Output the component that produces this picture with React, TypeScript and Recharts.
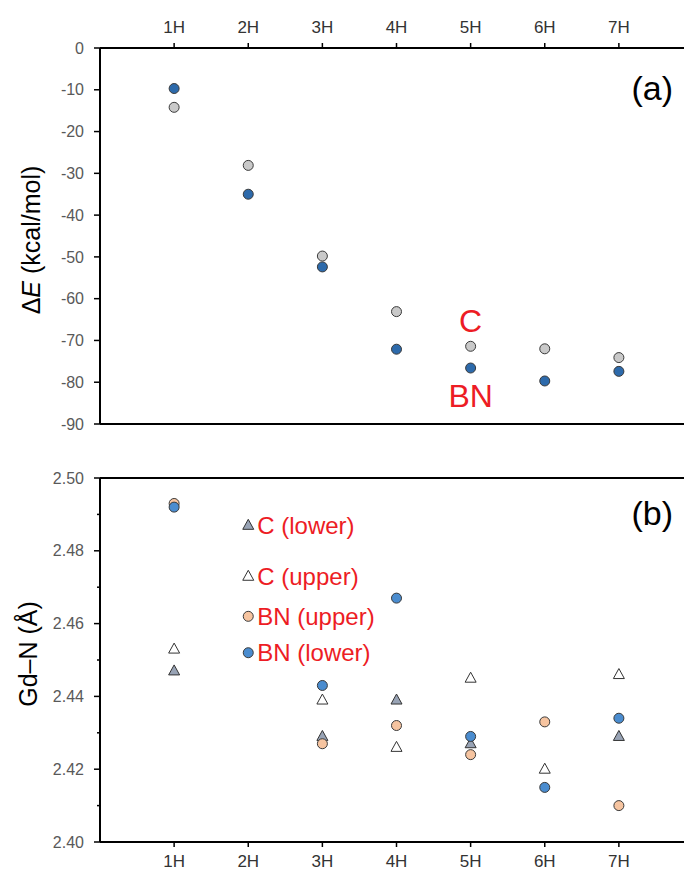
import React from 'react';
import {
  ScatterChart,
  Scatter,
  XAxis,
  YAxis,
  ReferenceLine,
  ReferenceDot,
} from 'recharts';

// hosts on the x axis (1H..7H)
const hosts = ['1H', '2H', '3H', '4H', '5H', '6H', '7H'];
const hostPos = [1, 2, 3, 4, 5, 6, 7];

// (a) binding energy, kcal/mol
const energyC = [-14.2, -28.1, -49.8, -63.1, -71.4, -72.0, -74.1];
const energyBN = [-9.7, -35.0, -52.4, -72.1, -76.6, -79.7, -77.4];
const energyTicks = [0, -10, -20, -30, -40, -50, -60, -70, -80, -90];

// (b) Gd–N distance, Å (null = no point drawn)
const gdnCLower = [2.447, null, 2.429, 2.439, 2.427, null, 2.429];
const gdnCUpper = [2.453, null, 2.439, 2.426, 2.445, 2.42, 2.446];
const gdnBNUpper = [2.493, null, 2.427, 2.432, 2.424, 2.433, 2.41];
const gdnBNLower = [2.492, null, 2.443, 2.467, 2.429, 2.415, 2.434];
const gdnTicks = [2.4, 2.41, 2.42, 2.43, 2.44, 2.45, 2.46, 2.47, 2.48, 2.49, 2.5];

// in-plot legend of (b), drawn at 2H
const legendNames = ['C (lower)', 'C (upper)', 'BN (upper)', 'BN (lower)'];
const legendY = [2.487, 2.473, 2.462, 2.452];
const legendX = 2;

const RED = '#ed1c24';
const FONT = "'Liberation Sans', Arial, sans-serif";

const toPoints = (vals: (number | null)[]) =>
  vals
    .map((v, i) => ({ x: hostPos[i], y: v }))
    .filter((p) => p.y !== null);

const hostLabel = (v: number) => hosts[v - 1] ?? '';

const circle = (fill: string) => (p: any) => (
  <circle cx={p.cx} cy={p.cy} r={5} fill={fill} stroke="#3a3a3a" strokeWidth={1} />
);

const triangle = (fill: string) => (p: any) => (
  <polygon
    points={`${p.cx},${p.cy - 6} ${p.cx - 5.5},${p.cy + 4} ${p.cx + 5.5},${p.cy + 4}`}
    fill={fill}
    stroke="#333"
    strokeWidth={1}
  />
);

const legendShapes = [
  triangle('#98a3b5'),
  triangle('#ffffff'),
  circle('#f6c4a0'),
  circle('#4a8ccf'),
];

const gdTick = (p: any) => {
  const v = p.payload.value as number;
  const major = Math.round(v * 100) % 2 === 0;
  return (
    <g>
      <line x1={p.x} x2={p.x - (major ? 6 : 3)} y1={p.y} y2={p.y} stroke="#000" strokeWidth={1.5} />
      {major && (
        <text x={p.x - 16} y={p.y} dy="0.35em" textAnchor="end" fontSize={16} fill="#595959" fontFamily={FONT}>
          {v.toFixed(2)}
        </text>
      )}
    </g>
  );
};

const energyTitle = () => (
  <text
    x={31}
    y={240}
    transform="rotate(-90, 31, 240)"
    textAnchor="middle"
    dominantBaseline="central"
    fontSize={25}
    fill="#000"
    fontFamily={FONT}
  >
    <tspan>Δ</tspan>
    <tspan fontStyle="italic">E</tspan>
    <tspan> (kcal/mol)</tspan>
  </text>
);

const gdnTitle = () => (
  <text
    x={28}
    y={214}
    transform="rotate(-90, 28, 214)"
    textAnchor="middle"
    dominantBaseline="central"
    fontSize={25}
    fill="#000"
    fontFamily={FONT}
  >
    Gd–N (Å)
  </text>
);

const axisLine = { stroke: '#000', strokeWidth: 2 };

export default function App() {
  return (
    <div
      style={{
        position: 'absolute',
        left: 0,
        top: 0,
        width: 684,
        height: 872,
        overflow: 'hidden',
        background: '#fff',
        fontFamily: FONT,
      }}
    >
      {/* (a) energies */}
      <div style={{ position: 'absolute', left: 0, top: 0 }}>
        <ScatterChart width={700} height={440} margin={{ top: 0, right: 7, bottom: 16, left: 0 }}>
          <XAxis
            dataKey="x"
            type="number"
            orientation="top"
            domain={[0, 8]}
            ticks={hostPos}
            interval={0}
            tickFormatter={hostLabel}
            height={48}
            tickSize={5}
            tickMargin={10}
            axisLine={axisLine}
            tickLine={{ stroke: '#000', strokeWidth: 1.5 }}
            tick={{ fontSize: 17, fill: '#333', fontFamily: FONT }}
          />
          <YAxis
            dataKey="y"
            type="number"
            domain={[-90, 0]}
            ticks={energyTicks}
            interval={0}
            allowDataOverflow
            width={100}
            tickSize={6}
            tickMargin={10}
            axisLine={axisLine}
            tickLine={{ stroke: '#000', strokeWidth: 1.5 }}
            tick={{ fontSize: 16, fill: '#595959', fontFamily: FONT }}
            label={{ content: energyTitle }}
          />
          <ReferenceLine y={-90} stroke="#000" strokeWidth={2} />
          <Scatter data={toPoints(energyC)} shape={circle('#c9c9c9')} isAnimationActive={false} />
          <Scatter data={toPoints(energyBN)} shape={circle('#2d6aab')} isAnimationActive={false} />
          <ReferenceDot x={5} y={-65.3} r={1} fill="none" stroke="none"
            label={{ value: 'C', position: 'center', fontSize: 32, fill: RED, fontFamily: FONT }} />
          <ReferenceDot x={5} y={-83.3} r={1} fill="none" stroke="none"
            label={{ value: 'BN', position: 'center', fontSize: 32, fill: RED, fontFamily: FONT }} />
          <ReferenceDot x={7.45} y={-9.5} r={1} fill="none" stroke="none"
            label={{ value: '(a)', position: 'center', fontSize: 34, fill: '#000', fontFamily: FONT }} />
        </ScatterChart>
      </div>

      {/* (b) Gd–N distances */}
      <div style={{ position: 'absolute', left: 0, top: 440 }}>
        <ScatterChart width={700} height={432} margin={{ top: 38, right: 7, bottom: 0, left: 0 }}>
          <XAxis
            dataKey="x"
            type="number"
            orientation="bottom"
            domain={[0, 8]}
            ticks={hostPos}
            interval={0}
            tickFormatter={hostLabel}
            height={30}
            tickSize={5}
            tickMargin={8}
            axisLine={axisLine}
            tickLine={{ stroke: '#000', strokeWidth: 1.5 }}
            tick={{ fontSize: 17, fill: '#333', fontFamily: FONT }}
          />
          <YAxis
            dataKey="y"
            type="number"
            domain={[2.4, 2.5]}
            ticks={gdnTicks}
            interval={0}
            allowDataOverflow
            width={100}
            tickSize={0}
            tickMargin={0}
            tickLine={false}
            axisLine={axisLine}
            tick={gdTick}
            label={{ content: gdnTitle }}
          />
          <ReferenceLine y={2.5} stroke="#000" strokeWidth={2} />
          <Scatter data={toPoints(gdnCUpper)} shape={triangle('#ffffff')} isAnimationActive={false} />
          <Scatter data={toPoints(gdnCLower)} shape={triangle('#98a3b5')} isAnimationActive={false} />
          <Scatter data={toPoints(gdnBNUpper)} shape={circle('#f6c4a0')} isAnimationActive={false} />
          <Scatter data={toPoints(gdnBNLower)} shape={circle('#4a8ccf')} isAnimationActive={false} />
          {legendNames.map((name, i) => (
            <Scatter
              key={name}
              data={[{ x: legendX, y: legendY[i] }]}
              shape={legendShapes[i]}
              isAnimationActive={false}
            />
          ))}
          {legendNames.map((name, i) => (
            <ReferenceDot
              key={'l' + name}
              x={legendX}
              y={legendY[i]}
              r={5}
              fill="none"
              stroke="none"
              label={{ value: name, position: 'right', offset: 4, fontSize: 24, fill: RED, fontFamily: FONT }}
            />
          ))}
          <ReferenceDot x={7.45} y={2.4904} r={1} fill="none" stroke="none"
            label={{ value: '(b)', position: 'center', fontSize: 34, fill: '#000', fontFamily: FONT }} />
        </ScatterChart>
      </div>
    </div>
  );
}
